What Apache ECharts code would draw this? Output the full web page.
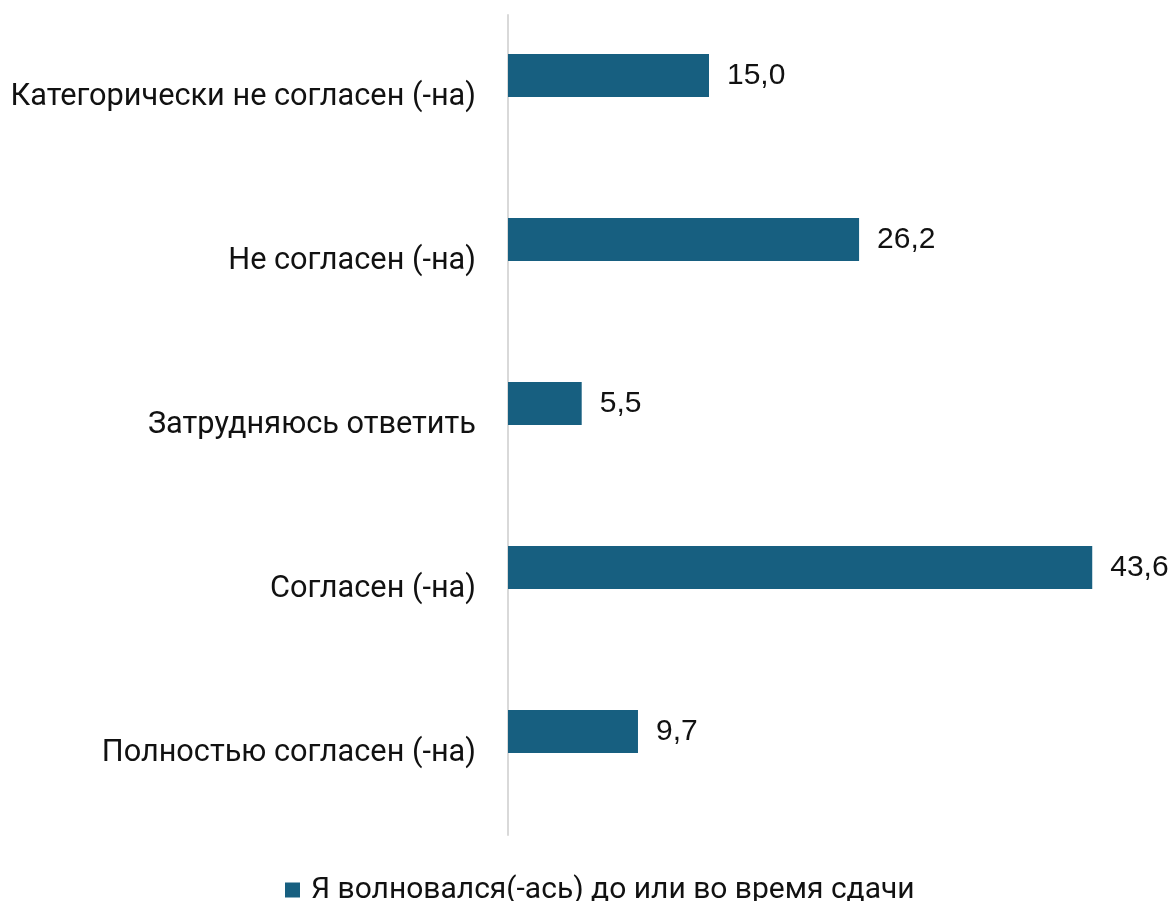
<!DOCTYPE html>
<html><head><meta charset="utf-8">
<script src="https://cdn.jsdelivr.net/npm/echarts@6/dist/echarts.min.js"></script>
<style>html,body{margin:0;padding:0;background:#fff}#c{width:1173px;height:901px}</style>
</head><body><div id="c"></div>
<script>
const categories = ['Категорически не согласен (-на)', 'Не согласен (-на)', 'Затрудняюсь ответить', 'Согласен (-на)', 'Полностью согласен (-на)'];
const seriesName = 'Я волновался(-ась) до или во время сдачи';
const values = [15.0, 26.2, 5.5, 43.6, 9.7];
const placeholder = [null, null, null, null, null];

const chart = echarts.init(document.getElementById('c'));
chart.setOption({
  animation: false,
  backgroundColor: '#fff',
  grid: { left: 508, top: 15, width: 643.2, height: 820 },
  legend: {
    data: [seriesName], top: 870, left: 280,
    itemWidth: 15, itemHeight: 15, itemGap: 10,
    icon: 'rect',
    textStyle: { fontFamily: 'Roboto', fontSize: 30, color: '#111', padding: [0, 0, 0, 6] }
  },
  xAxis: { type: 'value', min: 0, max: 48, show: false },
  yAxis: {
    type: 'category', data: categories, inverse: true,
    axisLine: { show: true, lineStyle: { color: '#d9d9d9', width: 2 } },
    axisTick: { show: false },
    axisLabel: { margin: 32, fontFamily: 'Roboto', fontSize: 30.7, color: '#111' }
  },
  series: [
    {
      name: seriesName, type: 'bar', data: values, barWidth: 43, barGap: '0%',
      itemStyle: { color: '#175F80' },
      label: {
        show: true, position: 'right', distance: 18,
        fontFamily: 'Liberation Sans', fontSize: 30, color: '#111',
        formatter: p => p.value.toFixed(1).replace('.', ',')
      }
    },
    { name: 'placeholder', type: 'bar', data: placeholder, barWidth: 43, barGap: '0%', silent: true }
  ]
});
</script></body></html>
